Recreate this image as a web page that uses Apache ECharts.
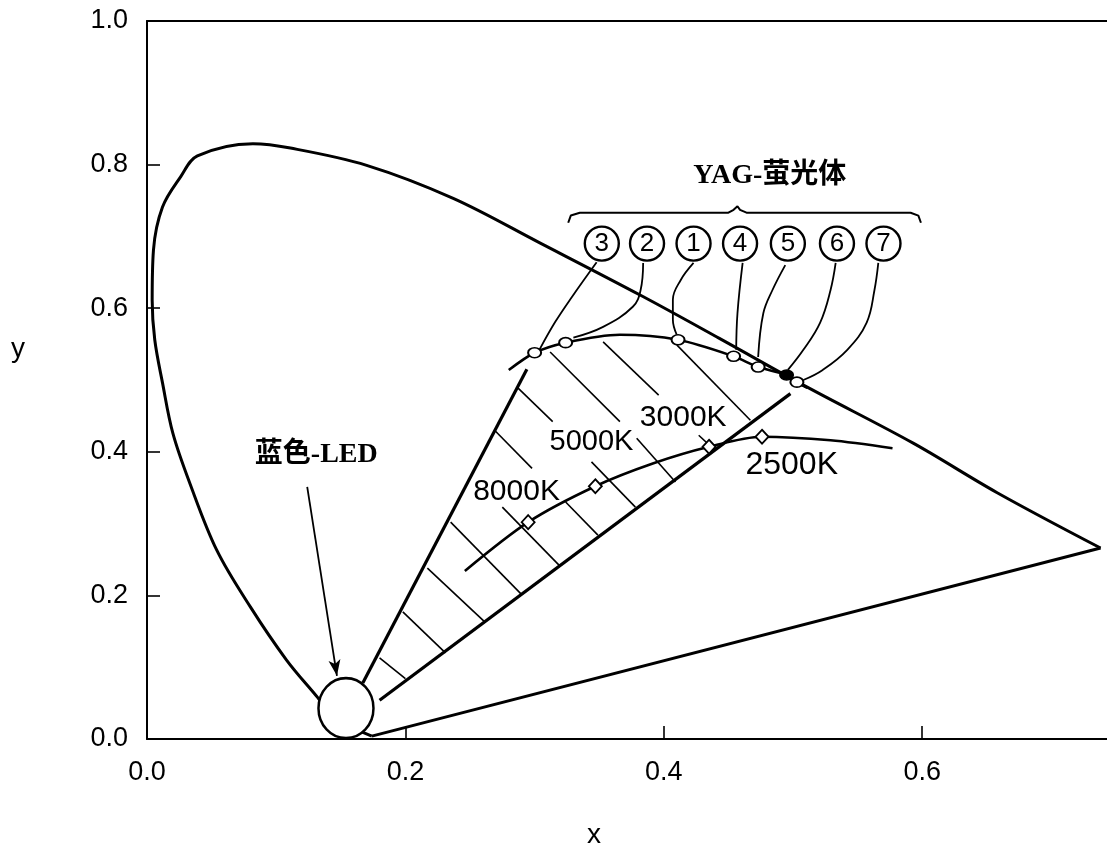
<!DOCTYPE html>
<html><head><meta charset="utf-8">
<script src="https://cdn.jsdelivr.net/npm/echarts@6.0.0/dist/echarts.min.js"></script>
<style>html,body{margin:0;padding:0;background:#fff}#c{width:1107px;height:852px}</style>
</head><body><div id="c"></div>
<script>
// ---- data (CIE x, y) ----
const xTickValues = [0.0, 0.2, 0.4, 0.6];
const yTickValues = [0.0, 0.2, 0.4, 0.6, 0.8, 1.0];

const spectralLocus = [[0.174,0.004],[0.144,0.031],[0.132,0.058],[0.108,0.110],[0.080,0.184],[0.054,0.263],[0.033,0.357],[0.020,0.426],[0.012,0.496],[0.006,0.556],[0.004,0.611],[0.005,0.681],[0.012,0.741],[0.026,0.783],[0.039,0.812],[0.082,0.829],[0.111,0.823],[0.170,0.799],[0.237,0.753],[0.304,0.691],[0.382,0.618],[0.443,0.558],[0.511,0.490],[0.593,0.412],[0.658,0.343],[0.738,0.266]];
const purpleLine = [[0.738,0.266],[0.174,0.004]];

const yagCurve = [[0.280,0.514],[0.300,0.538],[0.324,0.552],[0.366,0.563],[0.411,0.556],[0.454,0.533],[0.473,0.518],[0.495,0.507],[0.503,0.497],[0.511,0.489]];
const phosphorIds = ['3','2','1','4','5','6','7'];
const yagMarkers = [[0.300,0.538],[0.324,0.552],[0.411,0.556],[0.454,0.533],[0.473,0.518],[0.495,0.507],[0.503,0.497]];
const idCirclePos = [[0.352,0.690],[0.387,0.690],[0.423,0.690],[0.459,0.690],[0.496,0.690],[0.534,0.690],[0.570,0.690]];
const leaders = [
  [[0.348,0.664],[0.329,0.616],[0.316,0.581],[0.304,0.543]],
  [[0.384,0.663],[0.382,0.625],[0.376,0.602],[0.353,0.574],[0.330,0.559]],
  [[0.423,0.663],[0.413,0.639],[0.407,0.612],[0.407,0.584],[0.410,0.563]],
  [[0.461,0.663],[0.457,0.593],[0.456,0.542]],
  [[0.494,0.660],[0.484,0.625],[0.477,0.593],[0.473,0.532]],
  [[0.533,0.663],[0.529,0.625],[0.521,0.580],[0.508,0.542],[0.496,0.514]],
  [[0.566,0.663],[0.563,0.625],[0.557,0.580],[0.542,0.542],[0.523,0.514],[0.508,0.500]]
];
const brace = [[0.326,0.719],[0.328,0.729],[0.335,0.733],[0.450,0.733],[0.454,0.737],[0.457,0.742],[0.459,0.737],[0.464,0.733],[0.591,0.733],[0.597,0.729],[0.599,0.719]];

const blackbody = [[0.246,0.234],[0.295,0.302],[0.347,0.352],[0.392,0.384],[0.435,0.407],[0.476,0.421],[0.529,0.416],[0.577,0.405]];
const temps = ['8000K','5000K','3000K','2500K'];
const bbMarkers = [[0.295,0.302],[0.347,0.352],[0.435,0.407],[0.476,0.421]];
const tempLabelPos = [[0.286,0.345],[0.344,0.414],[0.415,0.448],[0.499,0.382]];

const leftBound = [[0.167,0.078],[0.294,0.515]];
const rightBound = [[0.180,0.054],[0.498,0.481]];
const hatches = [
  [[0.180,0.113],[0.200,0.084]],
  [[0.198,0.177],[0.231,0.120]],
  [[0.217,0.238],[0.262,0.162]],
  [[0.235,0.302],[0.290,0.201]],
  [[0.275,0.323],[0.320,0.240]],
  [[0.269,0.430],[0.298,0.377]],
  [[0.324,0.330],[0.349,0.284]],
  [[0.287,0.489],[0.314,0.442]],
  [[0.344,0.386],[0.378,0.323]],
  [[0.312,0.539],[0.366,0.442]],
  [[0.379,0.419],[0.409,0.358]],
  [[0.353,0.553],[0.396,0.479]],
  [[0.427,0.423],[0.439,0.403]],
  [[0.410,0.549],[0.467,0.444]]
];

const ledPoint = [0.154, 0.043];
const ledArrow = [[0.124,0.351],[0.147,0.088]];
const ledText = '蓝色-LED';
const ledTextPos = [0.131, 0.396];
const yagText = 'YAG-萤光体';
const yagTextPos = [0.482, 0.784];

// ---- chart ----
const BLACK = '#000';
const serifBold = "'Liberation Serif','Noto Sans CJK SC',serif";
const sans = "'Liberation Sans',Arial,sans-serif";
const tempFontSizes = [30, 29, 30, 32];

function lineSeries(data, width, smooth, z) {
  return {type:'line', data:data, symbol:'none', smooth:smooth||false, silent:true,
    lineStyle:{color:BLACK, width:width, opacity:1}, z:z||2, animation:false};
}

const series = [];
series.push(lineSeries(spectralLocus, 3, 0.35, 2));
series.push(lineSeries(purpleLine, 3, false, 2));
series.push(lineSeries(leftBound, 3.2, false, 2));
series.push(lineSeries(rightBound, 3.2, false, 2));
hatches.forEach(h => series.push(lineSeries(h, 1.6, false, 2)));
series.push(lineSeries(yagCurve, 2.6, 0.3, 3));
leaders.forEach(l => series.push(lineSeries(l, 1.8, 0.4, 3)));
series.push(lineSeries(brace, 2, false, 3));
series.push(lineSeries(blackbody, 2.6, 0.3, 3));

// YAG markers
series.push({type:'scatter', silent:true, animation:false, z:5,
  symbol:'circle', symbolSize:[13,10],
  data: yagMarkers.map((p,i)=>({value:p, itemStyle:{color: phosphorIds[i]==='6' ? BLACK : '#fff', borderColor:BLACK, borderWidth:1.8, opacity:1}}))
});
// blackbody markers
series.push({type:'scatter', silent:true, animation:false, z:5,
  symbol:'diamond', symbolSize:[13,14],
  itemStyle:{color:'#fff', borderColor:BLACK, borderWidth:1.8, opacity:1},
  data: bbMarkers
});
// circled ids
series.push({type:'scatter', silent:true, animation:false, z:6,
  symbol:'circle', symbolSize:34,
  itemStyle:{color:'#fff', borderColor:BLACK, borderWidth:2.4, opacity:1},
  label:{show:true, position:'inside', color:BLACK, fontSize:26, fontFamily:sans, opacity:1, formatter:p=>p.name},
  data: idCirclePos.map((p,i)=>({value:p, name:phosphorIds[i]}))
});
// LED ellipse + arrow
series.push({type:'scatter', silent:true, animation:false, z:7,
  symbol:'circle', symbolSize:[55,60],
  itemStyle:{color:'#fff', borderColor:BLACK, borderWidth:2.6, opacity:1},
  data:[ledPoint],
  markLine:{silent:true, animation:false, symbol:['none','arrow'], symbolSize:[9,16],
    lineStyle:{color:BLACK, width:1.8, type:'solid', opacity:1}, itemStyle:{color:BLACK}, label:{show:false},
    data:[[{coord:ledArrow[0]},{coord:ledArrow[1]}]]}
});
// text labels
const textItems = [];
temps.forEach((t,i)=>textItems.push({value:tempLabelPos[i], name:t,
  label:{fontSize:tempFontSizes[i], fontFamily:sans}}));
textItems.push({value:ledTextPos, name:ledText, label:{fontSize:28, fontFamily:serifBold, fontWeight:'bold'}});
textItems.push({value:yagTextPos, name:yagText, label:{fontSize:28, fontFamily:serifBold, fontWeight:'bold'}});
series.push({type:'scatter', silent:true, animation:false, z:8,
  symbol:'circle', symbolSize:1, itemStyle:{color:'rgba(0,0,0,0)', opacity:1},
  label:{show:true, position:'inside', color:BLACK, opacity:1, formatter:p=>p.name},
  data:textItems
});

const chart = echarts.init(document.getElementById('c'), null, {renderer:'canvas'});
chart.setOption({
  animation:false,
  backgroundColor:'#fff',
  grid:{left:147, right:0, top:21, bottom:113},
  xAxis:[{type:'value', min:0, max:0.743, interval:0.2, position:'bottom',
    axisLine:{show:true, lineStyle:{color:BLACK, width:2}},
    axisTick:{show:true, inside:true, length:13, lineStyle:{color:BLACK, width:1.6}},
    axisLabel:{showMaxLabel:false, color:BLACK, fontSize:27, fontFamily:sans, margin:20,
      formatter:v=> xTickValues.some(t=>Math.abs(t-v)<1e-6) ? v.toFixed(1) : ''},
    splitLine:{show:false}},
   {type:'value', min:0, max:0.743, position:'top',
    axisLine:{show:true, lineStyle:{color:BLACK, width:2}},
    axisTick:{show:false}, axisLabel:{show:false}, splitLine:{show:false}}],
  yAxis:{type:'value', min:0, max:1, interval:0.2,
    axisLine:{show:true, lineStyle:{color:BLACK, width:2}},
    axisTick:{show:true, inside:true, length:13, lineStyle:{color:BLACK, width:1.6}},
    axisLabel:{color:BLACK, fontSize:27, fontFamily:sans, margin:19,
      formatter:v=> yTickValues.some(t=>Math.abs(t-v)<1e-6) ? v.toFixed(1) : ''},
    splitLine:{show:false}},
  graphic:[
    {type:'text', x:594, y:835, style:{text:'x', font:'28px '+sans, fill:BLACK, textAlign:'center', textVerticalAlign:'middle'}},
    {type:'text', x:18, y:349, style:{text:'y', font:'28px '+sans, fill:BLACK, textAlign:'center', textVerticalAlign:'middle'}}
  ],
  series:series
});
</script></body></html>
